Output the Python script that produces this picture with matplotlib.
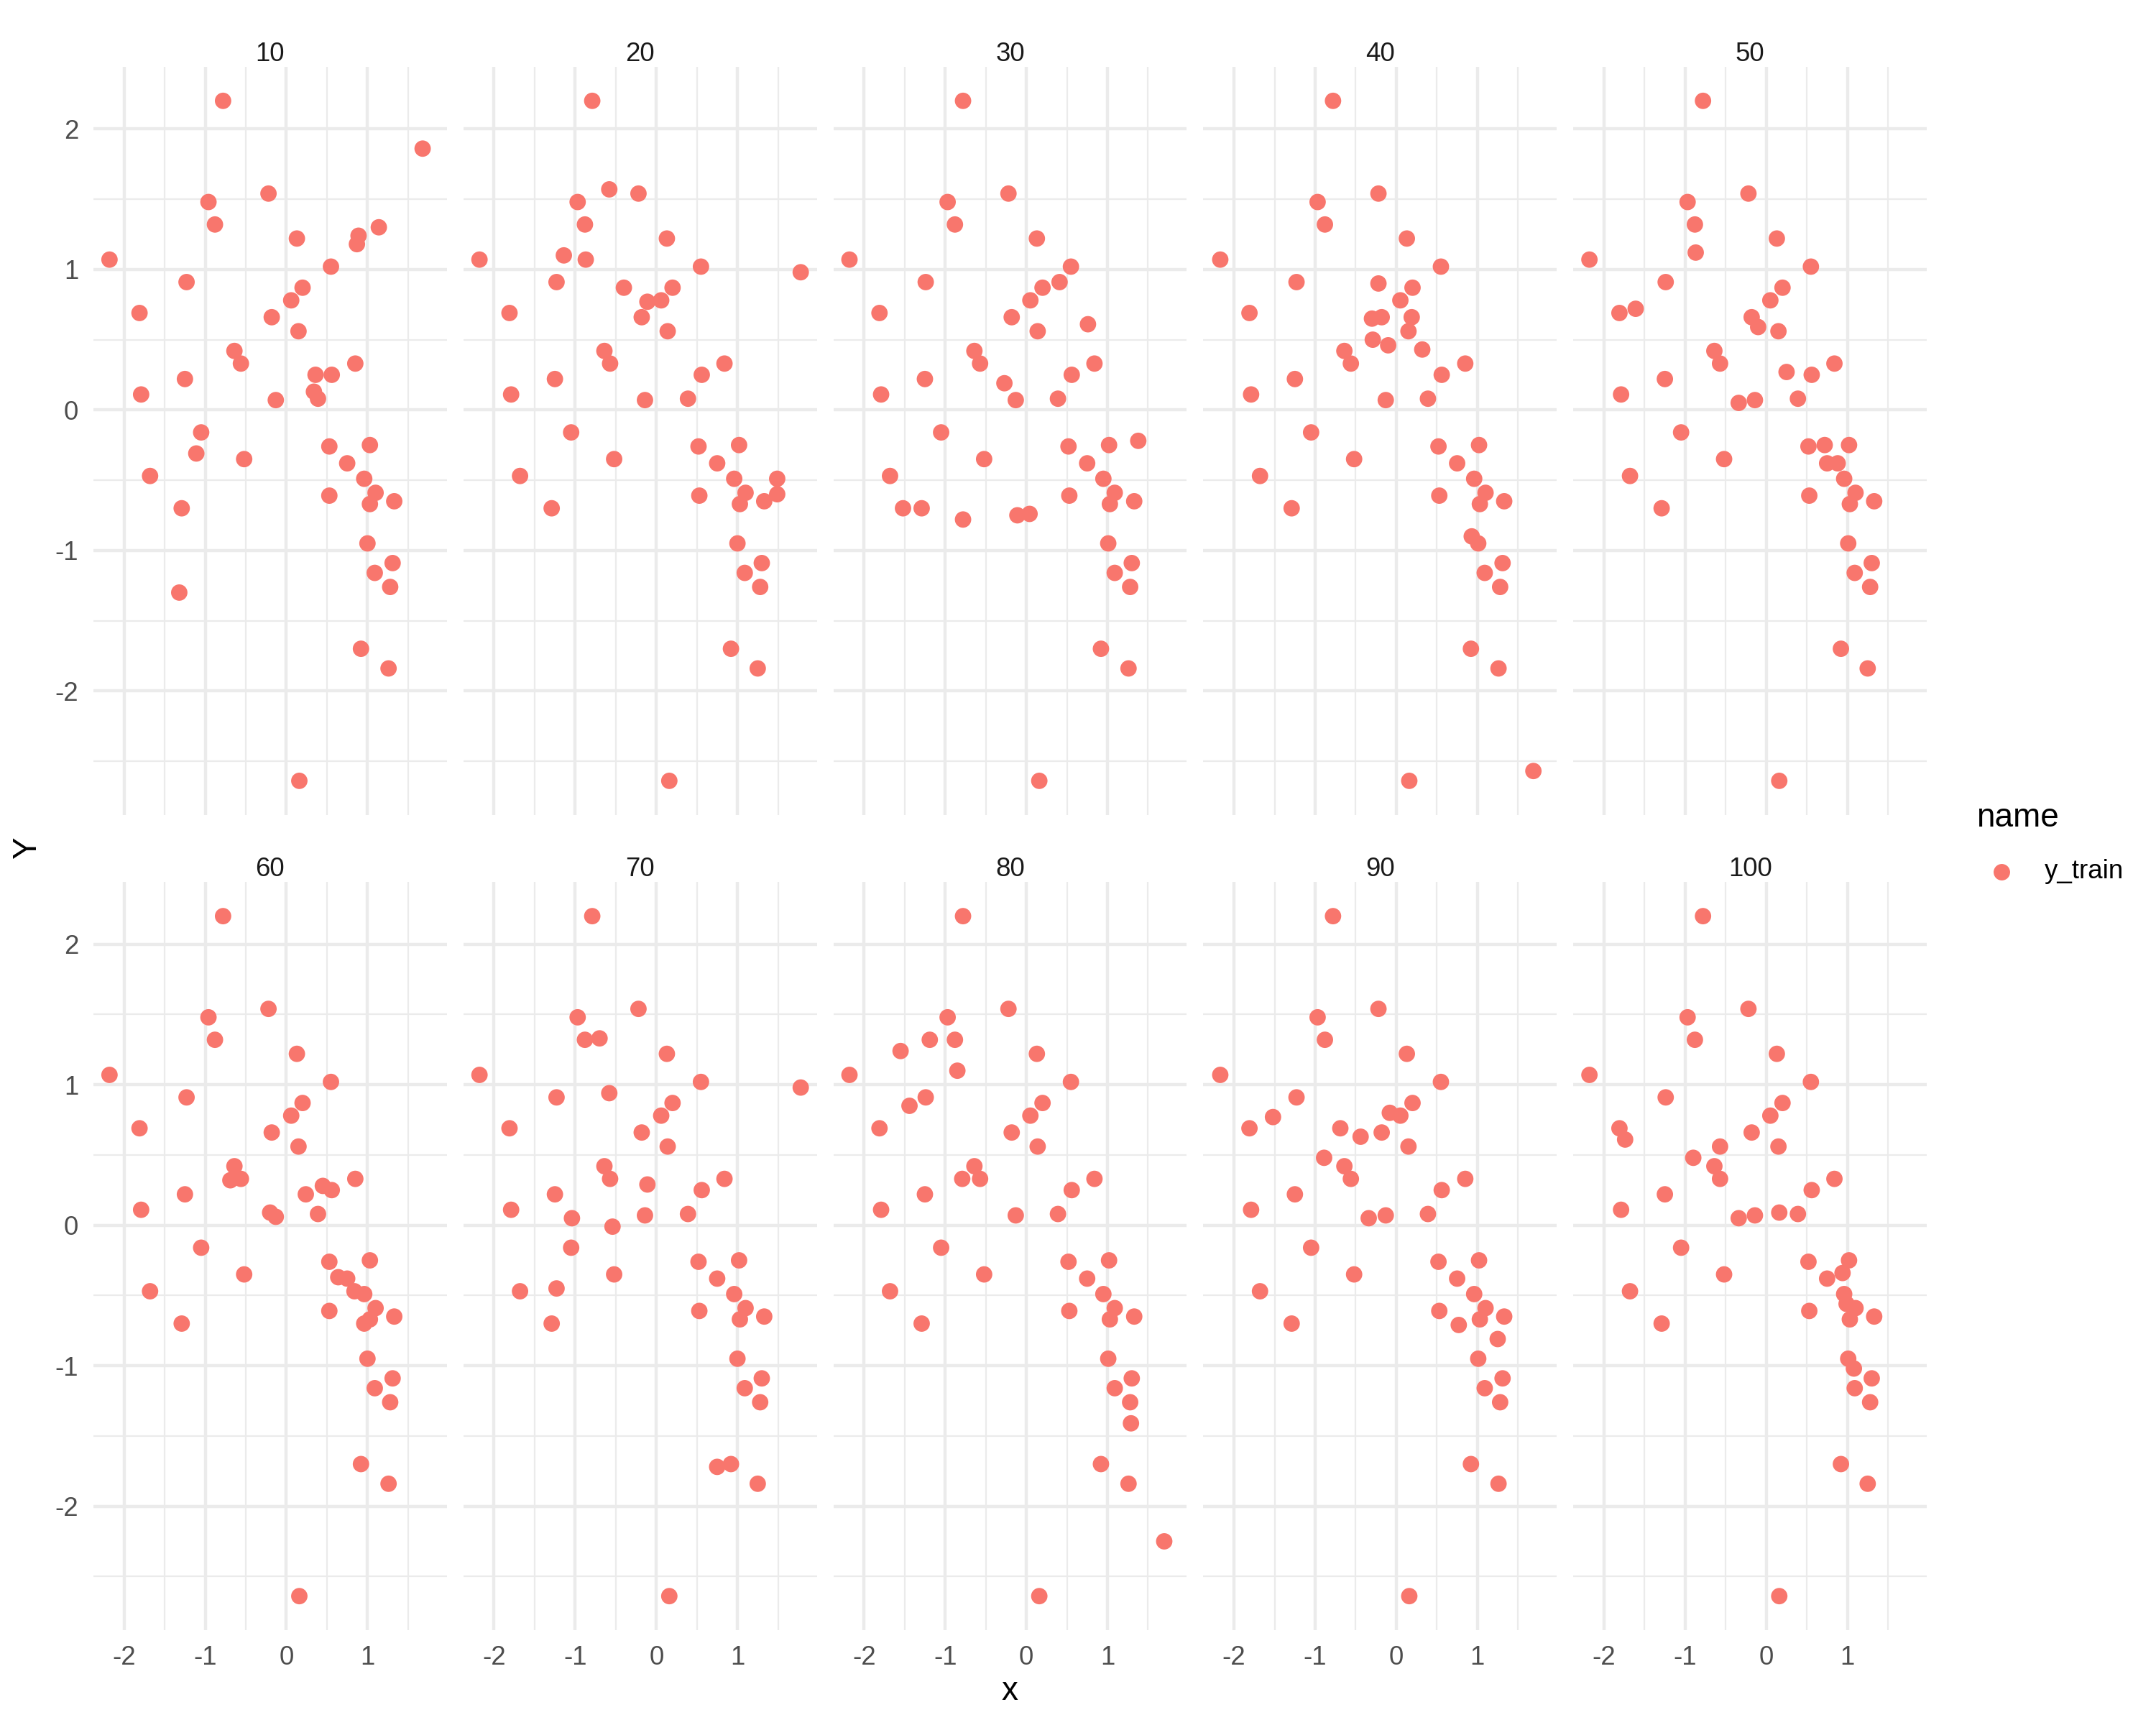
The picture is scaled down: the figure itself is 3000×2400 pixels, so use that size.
import matplotlib
matplotlib.use("Agg")
import matplotlib.pyplot as plt
import numpy as np
from matplotlib.lines import Line2D

plt.rcParams["font.family"] = ["Liberation Sans", "DejaVu Sans"]
plt.rcParams["axes.unicode_minus"] = False

# facet labels
facets = ["10", "20", "30", "40", "50", "60", "70", "80", "90", "100"]

x10 = [-0.78, 1.68, -0.22, -0.96, -0.88, 0.13, 0.89, 0.87, 1.14, -2.18, 0.55, -1.23, 0.20, 0.06, -1.81, -0.18,
       0.15, -0.64, -0.56, 0.85, 0.36, 0.56, -1.25, -1.79, 0.34, 0.39, -0.13, -1.05, 0.53, 1.03, -1.11, -0.52,
       0.75, -1.68, 0.96, 1.10, 0.53, 1.03, 1.33, -1.29, 1.00, 1.31, 1.09, 1.28, -1.32, 0.92, 1.26, 0.16]
y10 = [2.20, 1.86, 1.54, 1.48, 1.32, 1.22, 1.24, 1.18, 1.30, 1.07, 1.02, 0.91, 0.87, 0.78, 0.69, 0.66,
       0.56, 0.42, 0.33, 0.33, 0.25, 0.25, 0.22, 0.11, 0.13, 0.08, 0.07, -0.16, -0.26, -0.25, -0.31, -0.35,
       -0.38, -0.47, -0.49, -0.59, -0.61, -0.67, -0.65, -0.70, -0.95, -1.09, -1.16, -1.26, -1.30, -1.70, -1.84, -2.64]

x20 = [-0.79, -0.58, -0.22, -0.97, -0.88, 0.13, -2.18, -1.14, -0.87, 0.55, 1.78, -1.23, -0.40, 0.20, -0.11, 0.06,
       -1.81, -0.18, 0.14, -0.64, -0.57, 0.84, 0.56, -1.25, -1.79, -0.14, 0.39, -1.05, 0.52, 1.02, -0.52, 0.75,
       -1.68, 0.96, 1.49, 1.10, 1.49, 0.53, 1.03, 1.33, -1.29, 1.00, 1.30, 1.09, 1.28, 0.92, 1.25, 0.16]
y20 = [2.20, 1.57, 1.54, 1.48, 1.32, 1.22, 1.07, 1.10, 1.07, 1.02, 0.98, 0.91, 0.87, 0.87, 0.77, 0.78,
       0.69, 0.66, 0.56, 0.42, 0.33, 0.33, 0.25, 0.22, 0.11, 0.07, 0.08, -0.16, -0.26, -0.25, -0.35, -0.38,
       -0.47, -0.49, -0.49, -0.59, -0.60, -0.61, -0.67, -0.65, -0.70, -0.95, -1.09, -1.16, -1.26, -1.70, -1.84, -2.64]

x30 = [-0.78, -0.22, -0.97, -0.88, 0.13, -2.18, 0.55, -1.24, 0.20, 0.41, 0.05, -1.81, -0.18, 0.76, 0.14, -0.64,
       -0.57, 0.84, -0.27, 0.56, -1.25, -1.79, -0.13, 0.39, -1.05, 0.52, 1.02, 1.38, -0.52, 0.75, -1.68, 0.95,
       1.09, 0.53, 1.03, 1.33, -1.52, -1.29, -0.78, -0.11, 0.04, 1.01, 1.30, 1.09, 1.28, 0.92, 1.26, 0.16]
y30 = [2.20, 1.54, 1.48, 1.32, 1.22, 1.07, 1.02, 0.91, 0.87, 0.91, 0.78, 0.69, 0.66, 0.61, 0.56, 0.42,
       0.33, 0.33, 0.19, 0.25, 0.22, 0.11, 0.07, 0.08, -0.16, -0.26, -0.25, -0.22, -0.35, -0.38, -0.47, -0.49,
       -0.59, -0.61, -0.67, -0.65, -0.70, -0.70, -0.78, -0.75, -0.74, -0.95, -1.09, -1.16, -1.26, -1.70, -1.84, -2.64]

x40 = [-0.78, -0.22, -0.97, -0.88, 0.13, -2.17, 0.55, -1.23, -0.22, 0.20, 0.05, -1.81, -0.30, -0.18, 0.19, 0.15,
       -0.29, -0.10, 0.32, -0.64, -0.56, 0.85, 0.56, -1.25, -1.79, -0.13, 0.39, -1.05, 0.52, 1.02, -0.52, 0.75,
       -1.68, 0.96, 1.10, 0.53, 1.03, 1.33, -1.29, 0.93, 1.01, 1.31, 1.09, 1.28, 0.92, 1.26, 0.16, 1.69]
y40 = [2.20, 1.54, 1.48, 1.32, 1.22, 1.07, 1.02, 0.91, 0.90, 0.87, 0.78, 0.69, 0.65, 0.66, 0.66, 0.56,
       0.50, 0.46, 0.43, 0.42, 0.33, 0.33, 0.25, 0.22, 0.11, 0.07, 0.08, -0.16, -0.26, -0.25, -0.35, -0.38,
       -0.47, -0.49, -0.59, -0.61, -0.67, -0.65, -0.70, -0.90, -0.95, -1.09, -1.16, -1.26, -1.70, -1.84, -2.64, -2.57]

x50 = [-0.78, -0.22, -0.97, -0.88, 0.13, -0.87, -2.18, 0.55, -1.24, 0.20, 0.05, -1.81, -1.61, -0.18, -0.10, 0.15,
       -0.64, -0.57, 0.84, 0.25, 0.56, -1.25, -1.79, -0.34, -0.14, 0.39, -1.05, 0.52, 0.72, 1.02, -0.52, 0.75,
       0.88, -1.68, 0.96, 1.10, 0.53, 1.03, 1.33, -1.29, 1.01, 1.30, 1.09, 1.28, 0.92, 1.25, 0.16]
y50 = [2.20, 1.54, 1.48, 1.32, 1.22, 1.12, 1.07, 1.02, 0.91, 0.87, 0.78, 0.69, 0.72, 0.66, 0.59, 0.56,
       0.42, 0.33, 0.33, 0.27, 0.25, 0.22, 0.11, 0.05, 0.07, 0.08, -0.16, -0.26, -0.25, -0.25, -0.35, -0.38,
       -0.38, -0.47, -0.49, -0.59, -0.61, -0.67, -0.65, -0.70, -0.95, -1.09, -1.16, -1.26, -1.70, -1.84, -2.64]

x60 = [-0.78, -0.22, -0.96, -0.88, 0.13, -2.18, 0.55, -1.23, 0.20, 0.06, -1.81, -0.18, 0.15, -0.64, -0.69, -0.56,
       0.85, 0.45, 0.56, 0.24, -1.25, -1.79, -0.20, -0.13, 0.39, -1.05, 0.53, 1.03, -0.52, 0.64, 0.75, 0.84,
       -1.68, 0.96, 1.10, 0.53, 1.03, 0.96, 1.33, -1.29, 1.00, 1.31, 1.09, 1.28, 0.92, 1.26, 0.16]
y60 = [2.20, 1.54, 1.48, 1.32, 1.22, 1.07, 1.02, 0.91, 0.87, 0.78, 0.69, 0.66, 0.56, 0.42, 0.32, 0.33,
       0.33, 0.28, 0.25, 0.22, 0.22, 0.11, 0.09, 0.06, 0.08, -0.16, -0.26, -0.25, -0.35, -0.37, -0.38, -0.47,
       -0.47, -0.49, -0.59, -0.61, -0.67, -0.70, -0.65, -0.70, -0.95, -1.09, -1.16, -1.26, -1.70, -1.84, -2.64]

x70 = [-0.79, -0.22, -0.97, -0.88, -0.70, 0.13, -2.18, 0.55, 1.78, -1.23, -0.58, 0.20, 0.06, -1.81, -0.18, 0.14,
       -0.64, -0.57, -0.11, 0.84, 0.56, -1.25, -1.79, -1.04, -0.14, 0.39, -0.54, -1.05, 0.52, 1.02, -0.52, 0.75,
       -1.23, -1.68, 0.96, 1.10, 0.53, 1.03, 1.33, -1.29, 1.00, 1.30, 1.09, 1.28, 0.75, 0.92, 1.25, 0.16]
y70 = [2.20, 1.54, 1.48, 1.32, 1.33, 1.22, 1.07, 1.02, 0.98, 0.91, 0.94, 0.87, 0.78, 0.69, 0.66, 0.56,
       0.42, 0.33, 0.29, 0.33, 0.25, 0.22, 0.11, 0.05, 0.07, 0.08, -0.01, -0.16, -0.26, -0.25, -0.35, -0.38,
       -0.45, -0.47, -0.49, -0.59, -0.61, -0.67, -0.65, -0.70, -0.95, -1.09, -1.16, -1.26, -1.72, -1.70, -1.84, -2.64]

x80 = [-0.78, -0.22, -0.97, -1.19, -0.88, -1.55, 0.13, -0.85, -2.18, 0.55, -1.24, -1.44, 0.20, 0.05, -1.81, -0.18,
       0.14, -0.64, -0.79, -0.57, 0.84, 0.56, -1.25, -1.79, -0.13, 0.39, -1.05, 0.52, 1.02, -0.52, 0.75, -1.68,
       0.95, 1.09, 0.53, 1.03, 1.33, -1.29, 1.01, 1.30, 1.09, 1.28, 1.29, 0.92, 1.26, 1.70, 0.16]
y80 = [2.20, 1.54, 1.48, 1.32, 1.32, 1.24, 1.22, 1.10, 1.07, 1.02, 0.91, 0.85, 0.87, 0.78, 0.69, 0.66,
       0.56, 0.42, 0.33, 0.33, 0.33, 0.25, 0.22, 0.11, 0.07, 0.08, -0.16, -0.26, -0.25, -0.35, -0.38, -0.47,
       -0.49, -0.59, -0.61, -0.67, -0.65, -0.70, -0.95, -1.09, -1.16, -1.26, -1.41, -1.70, -1.84, -2.25, -2.64]

x90 = [-0.78, -0.22, -0.97, -0.88, 0.13, -2.17, 0.55, -1.23, 0.20, -1.52, -0.08, 0.05, -1.81, -0.69, -0.44, -0.18,
       0.15, -0.89, -0.64, -0.56, 0.85, 0.56, -1.25, -1.79, -0.34, -0.13, 0.39, -1.05, 0.52, 1.02, -0.52, 0.75,
       -1.68, 0.96, 1.10, 0.53, 0.77, 1.03, 1.33, -1.29, 1.25, 1.01, 1.31, 1.09, 1.28, 0.92, 1.26, 0.16]
y90 = [2.20, 1.54, 1.48, 1.32, 1.22, 1.07, 1.02, 0.91, 0.87, 0.77, 0.80, 0.78, 0.69, 0.69, 0.63, 0.66,
       0.56, 0.48, 0.42, 0.33, 0.33, 0.25, 0.22, 0.11, 0.05, 0.07, 0.08, -0.16, -0.26, -0.25, -0.35, -0.38,
       -0.47, -0.49, -0.59, -0.61, -0.71, -0.67, -0.65, -0.70, -0.81, -0.95, -1.09, -1.16, -1.26, -1.70, -1.84, -2.64]

x100 = [-0.78, -0.22, -0.97, -0.88, 0.13, -2.18, 0.55, -1.24, 0.20, 0.05, -1.81, -1.74, -0.18, -0.57, 0.15, -0.90,
        -0.64, -0.57, 0.84, 0.56, -1.25, -1.79, -0.34, -0.14, 0.16, 0.39, -1.05, 0.52, 1.02, 0.94, -0.52, 0.75,
        -1.68, 0.96, 0.99, 1.10, 0.53, 1.03, 1.33, -1.29, 1.01, 1.08, 1.30, 1.09, 1.28, 0.92, 1.25, 0.16]
y100 = [2.20, 1.54, 1.48, 1.32, 1.22, 1.07, 1.02, 0.91, 0.87, 0.78, 0.69, 0.61, 0.66, 0.56, 0.56, 0.48,
        0.42, 0.33, 0.33, 0.25, 0.22, 0.11, 0.05, 0.07, 0.09, 0.08, -0.16, -0.26, -0.25, -0.34, -0.35, -0.38,
        -0.47, -0.49, -0.56, -0.59, -0.61, -0.67, -0.65, -0.70, -0.95, -1.02, -1.09, -1.16, -1.26, -1.70, -1.84, -2.64]

xs = [x10, x20, x30, x40, x50, x60, x70, x80, x90, x100]
ys = [y10, y20, y30, y40, y50, y60, y70, y80, y90, y100]

x_ticks = [-2, -1, 0, 1]
y_ticks = [-2, -1, 0, 1, 2]

RED = "#F8766D"
GRID = "#EBEBEB"

# ggplot-style 5% expansion over all facets
all_x = np.concatenate([np.asarray(v) for v in xs])
all_y = np.concatenate([np.asarray(v) for v in ys])
xpad = 0.05 * (all_x.max() - all_x.min())
ypad = 0.05 * (all_y.max() - all_y.min())
xlim = (all_x.min() - xpad, all_x.max() + xpad)
ylim = (all_y.min() - ypad, all_y.max() + ypad)

fig, axs = plt.subplots(2, 5, figsize=(10, 8), dpi=300, sharex=True, sharey=True)
fig.subplots_adjust(left=130 / 3000, right=2681 / 3000, top=1 - 93 / 2400, bottom=132 / 2400,
                    wspace=0.047, hspace=0.09)

for i, ax in enumerate(axs.ravel()):
    ax.scatter(xs[i], ys[i], s=30, color=RED, edgecolors="none", zorder=3)
    ax.set_xlim(*xlim)
    ax.set_ylim(*ylim)
    ax.set_xticks(x_ticks)
    ax.set_yticks(y_ticks)
    ax.set_xticks([-1.5, -0.5, 0.5, 1.5], minor=True)
    ax.set_yticks([-2.5, -1.5, -0.5, 0.5, 1.5], minor=True)
    ax.grid(which="major", color=GRID, linewidth=1.07)
    ax.grid(which="minor", color=GRID, linewidth=0.53)
    ax.set_axisbelow(True)
    for s in ax.spines.values():
        s.set_visible(False)
    ax.tick_params(which="both", length=0, pad=4.95, labelsize=8.8, labelcolor="#4D4D4D")
    ax.set_title(facets[i], fontsize=8.8, color="#1A1A1A", pad=2.0)

fig.text(1405 / 3000, 1 - 2353 / 2400, "x", ha="center", va="center", fontsize=11)
fig.text(38 / 3000, 1 - 1180 / 2400, "Y", ha="center", va="center", fontsize=11, rotation=90)

# legend drawn like ggplot's guide
fig.text(2750 / 3000, 1 - 1138 / 2400, "name", ha="left", va="center", fontsize=11)
fig.add_artist(Line2D([2785 / 3000], [1 - 1213 / 2400], transform=fig.transFigure, marker="o",
                      linestyle="", markersize=5.5, markerfacecolor=RED, markeredgecolor="none"))
fig.text(2845 / 3000, 1 - 1213 / 2400, "y_train", ha="left", va="center", fontsize=8.8)

fig.savefig("out.png", dpi=300, facecolor="white")
